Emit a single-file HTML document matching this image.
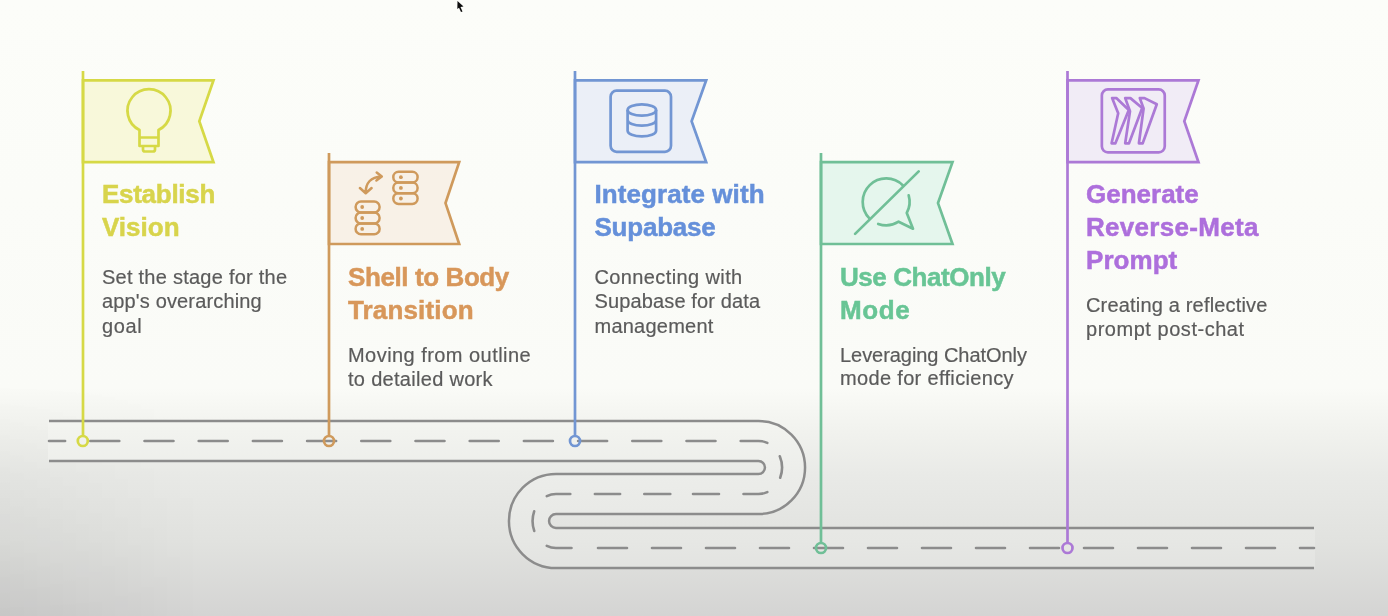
<!DOCTYPE html>
<html><head><meta charset="utf-8">
<style>
html,body{margin:0;padding:0;width:1388px;height:616px;overflow:hidden;}
body{background:#fafbf7;}
svg{position:absolute;left:0;top:0;filter:blur(0.55px);}
.t{font-family:"Liberation Sans",sans-serif;font-weight:bold;font-size:26px;}
.b{font-family:"Liberation Sans",sans-serif;font-size:20px;fill:#5b5b5b;stroke:#5b5b5b;stroke-width:0.2px;}
</style></head>
<body>
<svg width="1388" height="616" viewBox="0 0 1388 616">
<defs>
<linearGradient id="bg" gradientUnits="userSpaceOnUse" x1="0" y1="0" x2="0" y2="616">
<stop offset="0" stop-color="#fcfdf9"/>
<stop offset="0.63" stop-color="#fafbf7"/>
<stop offset="0.70" stop-color="#f1f2ee"/>
<stop offset="0.77" stop-color="#e9eae7"/>
<stop offset="0.88" stop-color="#e1e2df"/>
<stop offset="1" stop-color="#d4d4d3"/>
</linearGradient>
<linearGradient id="rd" gradientUnits="userSpaceOnUse" x1="0" y1="0" x2="0" y2="616">
<stop offset="0.63" stop-color="#f9faf6"/>
<stop offset="0.70" stop-color="#f2f3ef"/>
<stop offset="0.77" stop-color="#ecedea"/>
<stop offset="0.88" stop-color="#e6e7e4"/>
<stop offset="1" stop-color="#dcdcdb"/>
</linearGradient>
<linearGradient id="lv" x1="0" y1="0" x2="1" y2="0">
<stop offset="0" stop-color="#000" stop-opacity="0.06"/>
<stop offset="1" stop-color="#000" stop-opacity="0"/>
</linearGradient>
<linearGradient id="lvm" x1="0" y1="0" x2="0" y2="1">
<stop offset="0" stop-color="#fff" stop-opacity="0"/>
<stop offset="1" stop-color="#fff" stop-opacity="1"/>
</linearGradient>
<filter id="cb" x="-1" y="-1" width="3" height="3"><feGaussianBlur stdDeviation="0.5"/></filter>
<mask id="lvmask"><rect x="0" y="380" width="200" height="236" fill="url(#lvm)"/></mask>
</defs>
<rect x="0" y="0" width="1388" height="616" fill="url(#bg)"/>
<rect x="0" y="380" width="200" height="236" fill="url(#lv)" mask="url(#lvmask)"/>

<!-- road -->
<path d="M49 441 H758.5 A26.5 26.5 0 0 1 758.5 494 H556 A27 27 0 0 0 556 548 H1314" fill="none" stroke="#8c8c8c" stroke-width="42.6"/>
<path d="M48 441 H758.5 A26.5 26.5 0 0 1 758.5 494 H556 A27 27 0 0 0 556 548 H1315" fill="none" stroke="url(#rd)" stroke-width="37.6"/>
<path d="M49.0 441H65.1 M90.3 441H119.3 M144.5 441H173.5 M198.7 441H227.7 M252.9 441H281.9 M307.1 441H336.1 M361.3 441H390.3 M415.5 441H444.5 M469.7 441H498.7 M523.9 441H552.9 M578.1 441H607.1 M632.3 441H661.3 M686.5 441H715.5 M740.7 441H758.5A23.5 26.5 0 0 1 767.30 442.93 M779.80 456.30A23.5 26.5 0 0 1 780.19 477.70 M767.30 492.07A23.5 26.5 0 0 1 758.5 494H743.5 M693.0 494H719.0 M644.3 494H670.3 M594.9 494H620.1 M570.3 494H556A23.4 27 0 0 0 546.80 496.17 M534.16 511.3A23.4 27 0 0 0 534.23 530.9 M546.80 545.83A23.4 27 0 0 0 556 548H571.5 M598.0 548H627.0 M652.0 548H681.0 M706.0 548H735.0 M760.0 548H789.0 M814.0 548H843.0 M868.0 548H897.0 M922.0 548H951.0 M976.0 548H1005.0 M1030.0 548H1059.0 M1084.0 548H1113.0 M1138.0 548H1167.0 M1192.0 548H1221.0 M1246.0 548H1275.0 M1300.0 548H1314.0" fill="none" stroke="#8c8c8c" stroke-width="2.6" stroke-linecap="round"/>

<!-- flag 1 yellow -->
<g stroke="#d6d946" stroke-width="2.7" fill="none">
<path d="M83 80.3 H213.5 L199.3 121.25 L213.5 162.2 H83 Z" fill="#f8f8da"/>
<line x1="83" y1="71" x2="83" y2="436"/>
<circle cx="82.8" cy="441" r="5"/>
<path d="M139.5 130 A21.5 21.5 0 1 1 158.5 130 V146 H139.5 Z M139.5 137.5 H158.5" stroke-linejoin="round"/><path d="M143 146 V149.5 Q143 151.5 145 151.5 H153 Q155 151.5 155 149.5 V146" stroke-linejoin="round"/>
</g>
<!-- flag 2 orange -->
<g stroke="#cf9a5c" stroke-width="2.7" fill="none">
<path d="M329 162.2 H459.2 L445.5 203.1 L459.2 244 H329 Z" fill="#f8f1e7"/>
<line x1="329" y1="153" x2="329" y2="435"/>
<circle cx="329" cy="441" r="5"/>
<g stroke-width="2.5" stroke-linecap="round" stroke-linejoin="round">
<rect x="393.3" y="171.8" width="24.3" height="10.7" rx="5.3"/><rect x="393.3" y="182.5" width="24.3" height="10.7" rx="5.3"/><rect x="393.3" y="193.2" width="24.3" height="10.7" rx="5.3"/>
<rect x="355.6" y="201.6" width="24" height="10.9" rx="5.4"/><rect x="355.6" y="212.5" width="24" height="10.9" rx="5.4"/><rect x="355.6" y="223.4" width="24" height="10.9" rx="5.4"/>
<path d="M365.7 192.5 C365.7 183 371 177 381.3 176.5 M376.7 172.6 L381.8 176.5 L376.4 180.4 M359.9 188 L365.7 193.2 L371.6 188"/>
</g>
<g fill="#cf9a5c" stroke="none"><circle cx="400.9" cy="177.2" r="1.9"/><circle cx="400.9" cy="187.9" r="1.9"/><circle cx="400.9" cy="198.5" r="1.9"/><circle cx="362.2" cy="207" r="1.9"/><circle cx="362.2" cy="218" r="1.9"/><circle cx="362.2" cy="228.9" r="1.9"/></g>
</g>
<!-- flag 3 blue -->
<g stroke="#7296d3" stroke-width="2.7" fill="none">
<path d="M575 80.3 H706.2 L691.6 121.25 L706.2 162.2 H575 Z" fill="#ebeff7"/>
<line x1="575" y1="71" x2="575" y2="435"/>
<circle cx="575" cy="441" r="5"/>
<rect x="610.6" y="90.7" width="60.4" height="61.1" rx="6"/>
<ellipse cx="641.85" cy="110" rx="14.25" ry="5.6"/>
<path d="M627.6 110 V130.8 A14.25 5.6 0 0 0 656.1 130.8 V110 M627.6 120 A14.25 5.6 0 0 0 656.1 120"/>

</g>
<!-- flag 4 green -->
<g stroke="#70bf97" stroke-width="2.7" fill="none">
<path d="M821 162.2 H952.5 L938 203.1 L952.5 244 H821 Z" fill="#e5f6ed"/>
<line x1="821" y1="153" x2="821" y2="542"/>
<circle cx="821" cy="548" r="5"/>
<g stroke-linecap="round" stroke-linejoin="round">
<path d="M855.1 233.9 L918.7 171.4"/>
<path d="M902.97 185.44 A23.5 23.5 0 1 0 869.43 218.37"/>
<path d="M908.7 195.4 A23.5 23.5 0 0 1 906.77 212.98 L913 228.7 L898.6 221.7 A23.5 23.5 0 0 1 878.2 223.9"/>
</g>
</g>
<!-- flag 5 purple -->
<g stroke="#ac79d6" stroke-width="2.7" fill="none">
<path d="M1067.5 80.3 H1198.5 L1184.3 121.25 L1198.5 162.2 H1067.5 Z" fill="#f1ecf6"/>
<line x1="1067.5" y1="71" x2="1067.5" y2="542"/>
<circle cx="1067.5" cy="548" r="5"/>
<rect x="1101.85" y="89.45" width="62.9" height="62.9" rx="6"/>
<g stroke-linejoin="round">
<path d="M1112.1 98.1 H1116.3 L1128.8 109.9 L1115.4 143.3 H1111.6 L1118.2 113.2 Z"/>
<path d="M1125.2 98.1 H1130.4 L1142.2 108 L1129 143.3 H1125.2 L1130 111.3 Z"/>
<path d="M1139.8 98.1 H1144.5 L1156.8 104.2 L1142.7 143.3 H1138.9 L1143.6 108.5 Z"/>
</g>

</g>

<!-- text -->
<text class="t" fill="#d8d44c" stroke="#d8d44c" stroke-width="0.5"><tspan x="102" y="203" textLength="113.34" lengthAdjust="spacing">Establish</tspan><tspan x="102" y="236" textLength="77.55" lengthAdjust="spacing">Vision</tspan></text>
<text class="b"><tspan x="102" y="283.5" textLength="185.07" lengthAdjust="spacing">Set the stage for the</tspan><tspan x="102" y="308" textLength="159.65" lengthAdjust="spacing">app's overarching</tspan><tspan x="102" y="332.5" textLength="39.81" lengthAdjust="spacing">goal</tspan></text>

<text class="t" fill="#d8975a" stroke="#d8975a" stroke-width="0.5"><tspan x="348" y="285.5" textLength="161.32" lengthAdjust="spacing">Shell to Body</tspan><tspan x="348" y="318.5" textLength="125.60" lengthAdjust="spacing">Transition</tspan></text>
<text class="b"><tspan x="348" y="361.5" textLength="182.63" lengthAdjust="spacing">Moving from outline</tspan><tspan x="348" y="385.6" textLength="144.58" lengthAdjust="spacing">to detailed work</tspan></text>

<text class="t" fill="#6590da" stroke="#6590da" stroke-width="0.5"><tspan x="594.5" y="203" textLength="170.02" lengthAdjust="spacing">Integrate with</tspan><tspan x="594.5" y="236" textLength="121.23" lengthAdjust="spacing">Supabase</tspan></text>
<text class="b"><tspan x="594.5" y="283.5" textLength="147.71" lengthAdjust="spacing">Connecting with</tspan><tspan x="594.5" y="308" textLength="165.67" lengthAdjust="spacing">Supabase for data</tspan><tspan x="594.5" y="332.5" textLength="118.85" lengthAdjust="spacing">management</tspan></text>

<text class="t" fill="#68c595" stroke="#68c595" stroke-width="0.5"><tspan x="840" y="285.5" textLength="165.75" lengthAdjust="spacing">Use ChatOnly</tspan><tspan x="840" y="318.5" textLength="69.69" lengthAdjust="spacing">Mode</tspan></text>
<text class="b"><tspan x="840" y="361.5" textLength="186.94" lengthAdjust="spacing">Leveraging ChatOnly</tspan><tspan x="840" y="385.3" textLength="173.50" lengthAdjust="spacing">mode for efficiency</tspan></text>

<text class="t" fill="#ad6fdc" stroke="#ad6fdc" stroke-width="0.5"><tspan x="1086" y="203" textLength="112.73" lengthAdjust="spacing">Generate</tspan><tspan x="1086" y="236" textLength="172.44" lengthAdjust="spacing">Reverse-Meta</tspan><tspan x="1086" y="269" textLength="91.25" lengthAdjust="spacing">Prompt</tspan></text>
<text class="b"><tspan x="1086" y="312" textLength="181.38" lengthAdjust="spacing">Creating a reflective</tspan><tspan x="1086" y="336" textLength="158.08" lengthAdjust="spacing">prompt post-chat</tspan></text>

<!-- cursor -->
<path d="M457.5 1 L463.5 6.5 L460.5 7 L462.5 11.5 L461 12 L459 7.8 L457.3 9 Z" fill="#111" filter="url(#cb)"/>
</svg>
</body></html>
